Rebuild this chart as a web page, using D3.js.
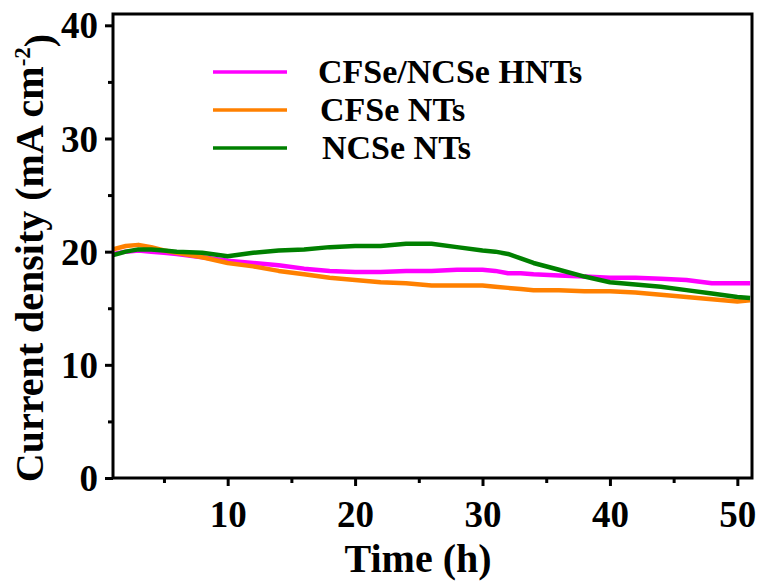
<!DOCTYPE html>
<html>
<head>
<meta charset="utf-8">
<script src="https://cdn.jsdelivr.net/npm/d3@7/dist/d3.min.js"></script>
<style>
  html, body { margin: 0; padding: 0; background: #fff; }
  svg { display: block; }
  text { font-family: "Liberation Serif", "Times New Roman", serif; font-weight: bold; fill: #000; }
</style>
</head>
<body>
<svg id="chart" width="767" height="581"></svg>
<script>
// Time axis (h) shared by all three chronoamperometry traces
const times = [1, 2, 3, 4, 5, 6, 8, 10, 12, 14, 16, 18, 20, 22, 24, 26, 28, 30, 31, 32, 33, 34, 36, 38, 40, 42, 44, 46, 48, 50, 51];

// Current density (mA cm^-2)
const hntsValues = [19.8, 20.0, 20.1, 20.0, 19.9, 19.8, 19.5, 19.2, 19.0, 18.8, 18.5, 18.3, 18.2, 18.2, 18.3, 18.3, 18.4, 18.4, 18.3, 18.1, 18.1, 18.0, 17.9, 17.8, 17.7, 17.7, 17.6, 17.5, 17.2, 17.2, 17.2];
const cfseValues = [20.2, 20.5, 20.6, 20.4, 20.1, 19.9, 19.5, 19.0, 18.7, 18.3, 18.0, 17.7, 17.5, 17.3, 17.2, 17.0, 17.0, 17.0, 16.9, 16.8, 16.7, 16.6, 16.6, 16.5, 16.5, 16.4, 16.2, 16.0, 15.8, 15.6, 15.7];
const ncseValues = [19.7, 20.0, 20.2, 20.2, 20.1, 20.0, 19.9, 19.6, 19.9, 20.1, 20.2, 20.4, 20.5, 20.5, 20.7, 20.7, 20.4, 20.1, 20.0, 19.8, 19.4, 19.0, 18.4, 17.8, 17.3, 17.1, 16.9, 16.6, 16.3, 16.0, 15.9];

const seriesNames = ["CFSe/NCSe HNTs", "CFSe NTs", "NCSe NTs"];
const seriesColors = ["#ff00ff", "#ff8000", "#008000"];
const seriesValues = [hntsValues, cfseValues, ncseValues];

const xTicks = [10, 20, 30, 40, 50];
const xMinorTicks = [5, 15, 25, 35, 45];
const yTicks = [0, 10, 20, 30, 40];
const yMinorTicks = [5, 15, 25, 35];

const svg = d3.select("#chart");
const plotLeft = 113, plotRight = 752, plotTop = 14, plotBottom = 478;

const x = d3.scaleLinear().domain([1, 51.15]).range([plotLeft, plotRight]);
const y = d3.scaleLinear().domain([0, 41]).range([plotBottom, plotTop]);

svg.append("defs").append("clipPath").attr("id", "plot")
  .append("rect").attr("x", plotLeft).attr("y", plotTop)
  .attr("width", plotRight - plotLeft).attr("height", plotBottom - plotTop);

// Traces
const line = d3.line().x(d => x(d[0])).y(d => y(d[1]));
seriesValues.forEach((vals, i) => {
  svg.append("path")
    .datum(times.map((t, k) => [t, vals[k]]))
    .attr("clip-path", "url(#plot)")
    .attr("fill", "none")
    .attr("stroke", seriesColors[i])
    .attr("stroke-width", 4.5)
    .attr("stroke-linejoin", "round")
    .attr("d", line);
});

// Axes
const xAxis = svg.append("g").attr("transform", `translate(0,${plotBottom})`)
  .call(d3.axisBottom(x).tickValues(xTicks).tickSize(8).tickPadding(14).tickFormat(d3.format("d")));
const xMinor = svg.append("g").attr("transform", `translate(0,${plotBottom})`)
  .call(d3.axisBottom(x).tickValues(xMinorTicks).tickSize(5).tickFormat(""));
const yAxis = svg.append("g").attr("transform", `translate(${plotLeft},0)`)
  .call(d3.axisLeft(y).tickValues(yTicks).tickSize(8).tickPadding(7).tickFormat(d3.format("d")));
const yMinor = svg.append("g").attr("transform", `translate(${plotLeft},0)`)
  .call(d3.axisLeft(y).tickValues(yMinorTicks).tickSize(5).tickFormat(""));

[xAxis, xMinor, yAxis, yMinor].forEach(g => {
  g.select(".domain").remove();
  g.attr("font-family", null).attr("font-size", null);
  g.selectAll(".tick line").attr("stroke", "#000").attr("stroke-width", 3);
  g.selectAll(".tick text").style("font-size", "37px");
});
yAxis.selectAll(".tick text").attr("dy", "0.34em");
xAxis.selectAll(".tick text").attr("dy", "0.72em");

// Frame
svg.append("rect")
  .attr("x", plotLeft).attr("y", plotTop)
  .attr("width", plotRight - plotLeft).attr("height", plotBottom - plotTop)
  .attr("fill", "none").attr("stroke", "#000").attr("stroke-width", 3);

// Axis titles
svg.append("text")
  .attr("x", 418).attr("y", 572)
  .attr("text-anchor", "middle")
  .style("font-size", "40px")
  .text("Time (h)");

const yTitle = svg.append("text")
  .attr("transform", "translate(43,258) rotate(-90)")
  .attr("text-anchor", "middle")
  .style("font-size", "40px");
yTitle.append("tspan").text("Current density (mA cm");
yTitle.append("tspan").attr("dy", "-0.55em").style("font-size", "23px").text("-2");
yTitle.append("tspan").attr("dy", "0.55em").text(")");

// Legend
const legendRows = [72, 110, 148];
const legendTextX = [318, 320, 322];
seriesNames.forEach((name, i) => {
  svg.append("line")
    .attr("x1", 213).attr("x2", 287)
    .attr("y1", legendRows[i]).attr("y2", legendRows[i])
    .attr("stroke", seriesColors[i]).attr("stroke-width", 3.5);
  svg.append("text")
    .attr("x", legendTextX[i]).attr("y", legendRows[i] + 11)
    .style("font-size", "34px")
    .text(name);
});
</script>
</body>
</html>
